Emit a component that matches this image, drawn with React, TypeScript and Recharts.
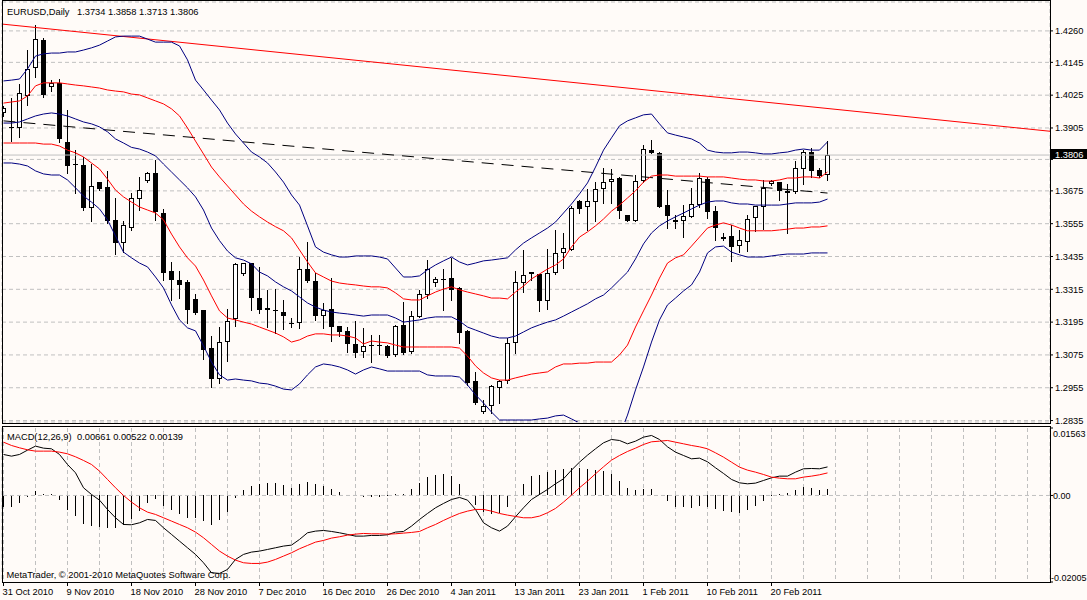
import React from "react";
import {
  ComposedChart,
  Bar,
  Line,
  XAxis,
  YAxis,
  CartesianGrid,
  ReferenceLine,
} from "recharts";

// EURUSD daily, 31 Oct 2010 .. 28 Feb 2011 (one slot per bar, Sundays included)
const open = [
  1.396, 1.3909, 1.3905, 1.4022, 1.4124, 1.4227, 1.4055, 1.407, 1.3854, 1.3773,
  1.377, 1.3612, 1.3707, 1.3689, 1.3569, 1.3484, 1.3539, 1.3645, 1.3711, 1.374,
  1.3594, 1.3382, 1.3349, 1.3342, 1.328, 1.3239, 1.31, 1.2987, 1.3122, 1.3206,
  1.3371, 1.3411, 1.3283, 1.3247, 1.3239, 1.3232, 1.3192, 1.3192, 1.3389, 1.3345,
  1.3217, 1.3243, 1.3181, 1.3163, 1.3115, 1.3086, 1.3111, 1.3111, 1.3108, 1.3075,
  1.3185, 1.3086, 1.3214, 1.3294, 1.3338, 1.3353, 1.3356, 1.332, 1.3163, 1.298,
  1.2866, 1.2888, 1.2954, 1.298, 1.3119, 1.3338, 1.3378, 1.3371, 1.3272, 1.3375,
  1.3448, 1.3459, 1.3638, 1.3616, 1.3634, 1.3682, 1.3707, 1.3722, 1.3587, 1.3565,
  1.3711, 1.3824, 1.3814, 1.3623, 1.3561, 1.3565, 1.358, 1.3623, 1.3718, 1.3601,
  1.3506, 1.351, 1.3473, 1.3488, 1.3576, 1.3616, 1.37, 1.3707, 1.3675, 1.3671,
  1.3755, 1.3817, 1.3751, 1.3734,
];
const high = [
  1.3985, 1.4015, 1.4066, 1.419, 1.4282, 1.4234, 1.408, 1.4084, 1.3971, 1.3824,
  1.3799, 1.3773, 1.3709, 1.3748, 1.3649, 1.3565, 1.3667, 1.3726, 1.3744, 1.3788,
  1.3609, 1.3415, 1.3382, 1.3349, 1.3298, 1.3241, 1.3144, 1.3177, 1.3243, 1.3411,
  1.3412, 1.3413, 1.3397, 1.3313, 1.3316, 1.3276, 1.321, 1.3433, 1.3488, 1.3375,
  1.3265, 1.3356, 1.3182, 1.3177, 1.3199, 1.3174, 1.3148, 1.3148, 1.3111, 1.3185,
  1.3269, 1.3236, 1.3313, 1.3422, 1.336, 1.3389, 1.343, 1.3324, 1.3166, 1.3013,
  1.291, 1.2965, 1.2982, 1.3137, 1.3382, 1.3459, 1.3379, 1.3372, 1.3462, 1.3532,
  1.3521, 1.362, 1.3642, 1.3682, 1.3707, 1.3759, 1.3755, 1.3726, 1.3588, 1.3733,
  1.3843, 1.3861, 1.3817, 1.3678, 1.3587, 1.3623, 1.3686, 1.374, 1.3726, 1.362,
  1.3521, 1.355, 1.3532, 1.3587, 1.3621, 1.3715, 1.3715, 1.3708, 1.37, 1.3784,
  1.3824, 1.3832, 1.3759, 1.3858,
];
const low = [
  1.3949, 1.3857, 1.3872, 1.3989, 1.4091, 1.4018, 1.404, 1.3854, 1.374, 1.3667,
  1.3605, 1.3565, 1.3678, 1.3558, 1.3444, 1.3451, 1.3532, 1.3605, 1.3707, 1.3569,
  1.3349, 1.3276, 1.3283, 1.3192, 1.3226, 1.306, 1.2958, 1.2972, 1.3053, 1.3181,
  1.3367, 1.3239, 1.3228, 1.3177, 1.3155, 1.317, 1.3177, 1.3174, 1.3342, 1.3203,
  1.3174, 1.3126, 1.3144, 1.3086, 1.3068, 1.3068, 1.3049, 1.3078, 1.3068, 1.3071,
  1.308, 1.3082, 1.3212, 1.3283, 1.3327, 1.3239, 1.3276, 1.3119, 1.2965, 1.2896,
  1.2863, 1.2863, 1.2899, 1.2972, 1.3082, 1.3305, 1.3349, 1.3236, 1.3243, 1.3371,
  1.3393, 1.3457, 1.3594, 1.3532, 1.3565, 1.3631, 1.3631, 1.3576, 1.3564, 1.3564,
  1.3707, 1.3813, 1.3615, 1.3539, 1.3539, 1.3506, 1.3579, 1.3616, 1.3576, 1.3495,
  1.3495, 1.3419, 1.3451, 1.3455, 1.3529, 1.3535, 1.3696, 1.3642, 1.3521, 1.3667,
  1.37, 1.3726, 1.3726, 1.3713,
];
const close = [
  1.3978, 1.3909, 1.4033, 1.4121, 1.423, 1.4026, 1.407, 1.3865, 1.3766, 1.377,
  1.3612, 1.3693, 1.3682, 1.3565, 1.3484, 1.355, 1.3649, 1.3678, 1.374, 1.3598,
  1.3375, 1.3349, 1.3331, 1.3239, 1.3228, 1.3093, 1.2987, 1.3122, 1.3199, 1.3408,
  1.341, 1.3283, 1.3239, 1.3239, 1.3236, 1.3217, 1.3192, 1.3389, 1.3345, 1.3217,
  1.3239, 1.3177, 1.3159, 1.3115, 1.3082, 1.3108, 1.3111, 1.3111, 1.3071, 1.3181,
  1.3082, 1.3217, 1.3298, 1.3389, 1.3353, 1.3349, 1.3313, 1.3155, 1.2972, 1.2899,
  1.2888, 1.2961, 1.298, 1.3119, 1.3342, 1.3367, 1.3371, 1.3272, 1.3375, 1.3448,
  1.3466, 1.3612, 1.3609, 1.3638, 1.3682, 1.3707, 1.3718, 1.3601, 1.3565, 1.3711,
  1.3828, 1.3814, 1.3616, 1.3583, 1.3569, 1.3583, 1.3627, 1.3722, 1.3598, 1.3539,
  1.3499, 1.347, 1.3495, 1.3572, 1.362, 1.3686, 1.3711, 1.3675, 1.3667, 1.3759,
  1.3817, 1.3748, 1.3729, 1.3806,
];

// Bollinger bands: blue = +/-2 sigma and middle, red = +/-1 sigma
const bbUpper2 = [
  1.4077, 1.408, 1.4084, 1.4121, 1.4168, 1.4176, 1.4179, 1.4179, 1.4183, 1.4183,
  1.419, 1.4198, 1.4208, 1.4223, 1.4238, 1.4241, 1.4241, 1.4241, 1.423, 1.4219,
  1.4219, 1.4219, 1.4205, 1.4154, 1.408, 1.4044, 1.4007, 1.3971, 1.3923, 1.3883,
  1.385, 1.3817, 1.3799, 1.3777, 1.3744, 1.3707, 1.366, 1.3623, 1.3547, 1.347,
  1.3451, 1.3441, 1.3433, 1.3433, 1.3437, 1.3437, 1.3437, 1.3433, 1.3426, 1.3393,
  1.336, 1.336, 1.3364, 1.3386, 1.3404, 1.3419, 1.3433, 1.3415, 1.3404, 1.3411,
  1.3419, 1.3422, 1.3426, 1.343, 1.3459, 1.3484, 1.3503, 1.3521, 1.3539, 1.3561,
  1.3594, 1.3627, 1.3664, 1.3704, 1.3762, 1.3824, 1.3869, 1.3913, 1.3931, 1.3942,
  1.3953, 1.3956, 1.392, 1.3887, 1.3879, 1.3872, 1.3865, 1.385, 1.3824, 1.3817,
  1.3814, 1.3814, 1.3817, 1.3817, 1.3814, 1.381, 1.381, 1.3814, 1.3817, 1.3824,
  1.3828, 1.3824, 1.3824, 1.3854,
];
const bbUpper1 = [
  1.3996, 1.4, 1.4004, 1.4022, 1.4059, 1.407, 1.407, 1.407, 1.4066, 1.4062,
  1.4059, 1.4055, 1.4051, 1.4044, 1.404, 1.4037, 1.4029, 1.4026, 1.4015, 1.4004,
  1.3993, 1.3975, 1.3949, 1.3905, 1.3857, 1.381, 1.3762, 1.3726, 1.3693, 1.366,
  1.3627, 1.3601, 1.358, 1.3561, 1.3544, 1.3529, 1.3503, 1.3459, 1.3415, 1.3375,
  1.336, 1.3345, 1.3338, 1.3334, 1.3331, 1.3327, 1.3324, 1.3324, 1.332, 1.3302,
  1.328, 1.3276, 1.3276, 1.3291, 1.3305, 1.3316, 1.3324, 1.3313, 1.3305, 1.3298,
  1.3291, 1.3283, 1.3283, 1.328, 1.3305, 1.3327, 1.3353, 1.3371, 1.3389, 1.3404,
  1.3426, 1.347, 1.3506, 1.3525, 1.3547, 1.3572, 1.3601, 1.3623, 1.3649, 1.3675,
  1.3707, 1.3729, 1.3733, 1.3733, 1.3729, 1.3729, 1.3729, 1.3729, 1.3726, 1.3726,
  1.3726, 1.3722, 1.3718, 1.3715, 1.3715, 1.3711, 1.3711, 1.3715, 1.3722, 1.3722,
  1.3726, 1.3726, 1.3722, 1.3744,
];
const bbMid = [
  1.3923, 1.3923, 1.3927, 1.3938, 1.3949, 1.3956, 1.396, 1.3956, 1.3949, 1.3938,
  1.3927, 1.392, 1.3909, 1.3891, 1.3865, 1.385, 1.3834, 1.3828, 1.3817, 1.3803,
  1.3773, 1.3744, 1.3715, 1.3686, 1.3653, 1.3605, 1.3539, 1.3493, 1.3455, 1.343,
  1.3422, 1.3408, 1.3378, 1.3364, 1.3342, 1.3324, 1.3309, 1.3287, 1.3265, 1.325,
  1.3239, 1.3232, 1.3228, 1.3225, 1.3221, 1.3217, 1.3221, 1.3221, 1.3221, 1.321,
  1.3195, 1.3199, 1.3203, 1.321, 1.3214, 1.3214, 1.3214, 1.3199, 1.3177, 1.3166,
  1.3155, 1.3144, 1.3137, 1.3137, 1.3144, 1.3159, 1.3174, 1.3185, 1.3195, 1.3203,
  1.3217, 1.3232, 1.3247, 1.3262, 1.328, 1.3294, 1.332, 1.3349, 1.3378, 1.3426,
  1.3481, 1.3521, 1.3547, 1.3565, 1.358, 1.3594, 1.3609, 1.3623, 1.3634, 1.3638,
  1.3638, 1.3631, 1.3627, 1.3627, 1.3623, 1.3623, 1.3623, 1.3623, 1.3627, 1.3631,
  1.3631, 1.3631, 1.3634, 1.3645,
];
const bbLower1 = [
  1.385, 1.385, 1.385, 1.385, 1.385, 1.3846, 1.3846, 1.3839, 1.3824, 1.3814,
  1.3799, 1.3777, 1.3755, 1.3718, 1.3678, 1.3653, 1.3634, 1.3616, 1.3605, 1.3594,
  1.3569, 1.3517, 1.347, 1.343, 1.34, 1.3349, 1.3291, 1.3236, 1.321, 1.3203,
  1.3195, 1.3188, 1.3177, 1.3166, 1.3155, 1.3141, 1.3122, 1.313, 1.3144, 1.3152,
  1.3152, 1.3148, 1.3148, 1.3144, 1.3137, 1.3115, 1.3126, 1.3122, 1.3119, 1.3111,
  1.3104, 1.3104, 1.3104, 1.3104, 1.3104, 1.3104, 1.3104, 1.31, 1.3071, 1.3035,
  1.3009, 1.2991, 1.2983, 1.2983, 1.2991, 1.2998, 1.3005, 1.3009, 1.3013, 1.3031,
  1.3042, 1.3042, 1.3045, 1.3045, 1.3049, 1.3049, 1.3049, 1.3075, 1.3111, 1.3177,
  1.3236, 1.3294, 1.3356, 1.3411, 1.343, 1.3441, 1.3473, 1.3506, 1.3539, 1.355,
  1.3558, 1.355, 1.3539, 1.3529, 1.3529, 1.3529, 1.3529, 1.3532, 1.3535, 1.3539,
  1.3539, 1.3543, 1.3543, 1.3547,
];
const bbLower2 = [
  1.3777, 1.3777, 1.3773, 1.3766, 1.3748, 1.3737, 1.3733, 1.3733, 1.3715, 1.3686,
  1.3656, 1.3634, 1.3609, 1.3569, 1.351, 1.3451, 1.343, 1.3411, 1.3397, 1.336,
  1.332, 1.3258, 1.3203, 1.3174, 1.3163, 1.3108, 1.3049, 1.3002, 1.2983, 1.2987,
  1.2983, 1.298, 1.2972, 1.2969, 1.2961, 1.295, 1.2947, 1.2969, 1.3002, 1.3031,
  1.3042, 1.3038, 1.3031, 1.302, 1.3005, 1.302, 1.3031, 1.3024, 1.3016, 1.3016,
  1.3016, 1.3016, 1.3016, 1.3002, 1.2998, 1.2998, 1.2998, 1.2994, 1.2965, 1.2929,
  1.2899, 1.2866, 1.2837, 1.2837, 1.2837, 1.2837, 1.2837, 1.2841, 1.2844, 1.2852,
  1.2855, 1.2841, 1.2826, 1.2808, 1.279, 1.2771, 1.2764, 1.2779, 1.2855, 1.2947,
  1.3031, 1.3122, 1.3203, 1.3258, 1.3283, 1.3309, 1.3331, 1.3378, 1.3448, 1.347,
  1.3473, 1.3451, 1.3441, 1.3433, 1.3433, 1.3433, 1.3437, 1.3441, 1.3444, 1.3444,
  1.3444, 1.3448, 1.3448, 1.3448,
];

// MACD(12,26,9): main, signal, histogram
const macdMain = [
  0.0095, 0.00911, 0.0095, 0.0105, 0.01143, 0.01096, 0.01081, 0.0095, 0.00718, 0.00525,
  0.00178, 0.00023, -0.00108, -0.00324, -0.00517, -0.00672, -0.00679, -0.00633, -0.00556, -0.00579,
  -0.00749, -0.00903, -0.01058, -0.01212, -0.01366, -0.01559, -0.01791, -0.01806, -0.01714, -0.01482,
  -0.01366, -0.01312, -0.01289, -0.01251, -0.01212, -0.01173, -0.0115, -0.01019, -0.00865, -0.00826,
  -0.00811, -0.00834, -0.00865, -0.00903, -0.00942, -0.00942, -0.00926, -0.00926, -0.00911, -0.00849,
  -0.00834, -0.0071, -0.00556, -0.00417, -0.00286, -0.00185, -0.00093, -0.00046, -0.00108, -0.00324,
  -0.00633, -0.00749, -0.00826, -0.0071, -0.00494, -0.00286, -0.00093, 0.00023, 0.00139, 0.0027,
  0.00386, 0.00587, 0.00772, 0.00934, 0.01081, 0.0122, 0.01297, 0.01274, 0.01197, 0.01258,
  0.01351, 0.0139, 0.01297, 0.01127, 0.01004, 0.00926, 0.00849, 0.00865, 0.0078, 0.00641,
  0.0051, 0.00371, 0.00293, 0.0027, 0.00286, 0.00347, 0.00409, 0.00448, 0.00448, 0.0054,
  0.00618, 0.00625, 0.00618, 0.00661,
];
const macdSignal = [
  0.01235, 0.01158, 0.01104, 0.01058, 0.01027, 0.01027, 0.01027, 0.01004, 0.00965, 0.00896,
  0.00811, 0.00718, 0.00564, 0.00371, 0.00178, 0.0, -0.00154, -0.00286, -0.00386, -0.0044,
  -0.00517, -0.00594, -0.00672, -0.00749, -0.00849, -0.0098, -0.01135, -0.01289, -0.01405, -0.01498,
  -0.01559, -0.01575, -0.01575, -0.01544, -0.01482, -0.01405, -0.01328, -0.01235, -0.01158, -0.01081,
  -0.01042, -0.00988, -0.00957, -0.00919, -0.00896, -0.0088, -0.00888, -0.00888, -0.00896, -0.00888,
  -0.00872, -0.00857, -0.00834, -0.00749, -0.00672, -0.00579, -0.00494, -0.00417, -0.00363, -0.00324,
  -0.00324, -0.00363, -0.00417, -0.00455, -0.00486, -0.00517, -0.00517, -0.00479, -0.00401, -0.00301,
  -0.00154, 0.00008, 0.00178, 0.00332, 0.00502, 0.00664, 0.00818, 0.00926, 0.01019, 0.01096,
  0.01181, 0.01243, 0.01258, 0.01274, 0.01235, 0.01197, 0.01158, 0.01127, 0.01081, 0.00988,
  0.00888, 0.00772, 0.00656, 0.00587, 0.0054, 0.00486, 0.00425, 0.00401, 0.00386, 0.00386,
  0.00425, 0.00448, 0.00479, 0.00522,
];
const macdHist = [
  -0.00262, -0.00262, -0.0017, -0.00031, 0.00093, 0.00039, 0.00023, -0.00108, -0.0034, -0.00479,
  -0.00656, -0.0071, -0.00726, -0.00749, -0.00764, -0.00687, -0.0054, -0.00363, -0.0017, -0.00077,
  -0.00247, -0.0034, -0.0044, -0.00517, -0.00517, -0.00594, -0.00687, -0.00579, -0.00386, -0.00054,
  0.00124, 0.00216, 0.00255, 0.00293, 0.00278, 0.00239, 0.00178, 0.00255, 0.00309, 0.00255,
  0.00216, 0.00154, 0.00085, 0.00015, 0.00015, -0.00031, -0.00046, -0.00039, -0.00015, 0.00023,
  0.00039, 0.00154, 0.00278, 0.00432, 0.00471, 0.00494, 0.00448, 0.0027, 0.00008, -0.00224,
  -0.00378, -0.00425, -0.00401, -0.00262, -0.00008, 0.00262, 0.00448, 0.00471, 0.00548, 0.00587,
  0.00602, 0.00625, 0.00633, 0.00618, 0.00594, 0.00571, 0.00494, 0.00332, 0.00178, 0.00124,
  0.00154, 0.00154, 0.0, -0.00124, -0.00262, -0.00278, -0.00301, -0.00247, -0.00278, -0.00324,
  -0.00363, -0.00378, -0.00401, -0.0034, -0.00247, -0.00139, -0.00008, 0.00023, 0.00062, 0.00116,
  0.00193, 0.0017, 0.00131, 0.00139,
];

const dateLabelSlots = [0, 8, 16, 24, 32, 40, 48, 56, 64, 72, 80, 88, 96];
const dateLabels = [
  "31 Oct 2010", "9 Nov 2010", "18 Nov 2010", "28 Nov 2010", "7 Dec 2010",
  "16 Dec 2010", "26 Dec 2010", "4 Jan 2011", "13 Jan 2011", "23 Jan 2011",
  "1 Feb 2011", "10 Feb 2011", "20 Feb 2011",
];
const gridSlots = [
  0, 4, 8, 12, 16, 20, 24, 28, 32, 36, 40, 44, 48, 52, 56, 60, 64, 68, 72, 76,
  80, 84, 88, 92, 96, 100, 104, 108, 112, 116, 120, 124, 128,
];
const priceTicks = [
  1.2835, 1.2955, 1.3075, 1.3195, 1.3315, 1.3435, 1.3555, 1.3675, 1.379, 1.3905,
  1.4025, 1.4145, 1.426,
];
// the 1.3790 label sits under the current-price tag in the original
const hiddenPriceLabel = 1.379;
const macdTicks = [-0.02005, 0, 0.01563];
const macdTickLabels = ["-0.02005", "0.00", "0.01563"];
const lastPrice = 1.3806;
const trendRed = [
  { x: -0.1875, y: 1.4285 },
  { x: 130.8125, y: 1.3893 },
];
const trendDash = [
  { x: 0, y: 1.3931 },
  { x: 103, y: 1.3667 },
];

const slotDomain = [-0.1875, 130.8125];
const priceDomain = [1.28297, 1.43657];
const macdDomain = [-0.02005, 0.01563];

const rows = open.map((o, i) => ({
  i,
  open: o,
  high: high[i],
  low: low[i],
  close: close[i],
  bu2: bbUpper2[i],
  bu1: bbUpper1[i],
  mid: bbMid[i],
  bl1: bbLower1[i],
  bl2: bbLower2[i],
  macd: macdMain[i],
  signal: macdSignal[i],
  hist: macdHist[i],
}));

const FONT = "'Liberation Sans', Arial, sans-serif";
const FS = 9.3;
const BG = "#FFFBF8";
const GRID = "#C0C0C0";
const NAVY = "#000080";
const RED = "#FF0000";

const Candle = (props: any) => {
  const { x, y, width, height, payload } = props;
  if (!payload || !Number.isFinite(y) || !Number.isFinite(height)) return null;
  const top0 = Math.min(y, y + height);
  const h = Math.abs(height);
  const c = Math.floor(x + width / 2);
  const span = payload.high - payload.low;
  const at = (v: number) => (span > 0 ? top0 + ((payload.high - v) / span) * h : top0);
  const yo = at(payload.open);
  const yc = at(payload.close);
  const top = Math.round(Math.min(yo, yc));
  const bot = Math.round(Math.max(yo, yc));
  const wick = (
    <line x1={c + 0.5} x2={c + 0.5} y1={Math.round(top0)} y2={Math.round(top0 + h) + 1} stroke="#000" />
  );
  if (bot - top < 2) {
    return (
      <g>
        {wick}
        <line x1={c - 2} x2={c + 3} y1={top + 0.5} y2={top + 0.5} stroke="#000" />
      </g>
    );
  }
  if (payload.close > payload.open) {
    return (
      <g>
        {wick}
        <rect x={c - 1.5} y={top + 0.5} width={4} height={bot - top - 1} fill="#fff" stroke="#000" />
      </g>
    );
  }
  return (
    <g>
      {wick}
      <rect x={c - 2} y={top} width={5} height={bot - top} fill="#000" />
    </g>
  );
};

const HistLine = (props: any) => {
  const { x, y, width, height } = props;
  if (!Number.isFinite(y) || !height) return null;
  const c = Math.floor(x + width / 2) + 0.5;
  return <line x1={c} x2={c} y1={Math.round(y)} y2={Math.round(y + height)} stroke="#000" />;
};

const PriceTick = (props: any) => {
  const { x, y, payload } = props;
  if (payload.value === hiddenPriceLabel) return null;
  return (
    <text x={x} y={y} dy={3.3} fontSize={FS} fontFamily={FONT} fill="#000">
      {payload.value.toFixed(4)}
    </text>
  );
};

const MacdTick = (props: any) => {
  const { x, y, payload } = props;
  const k = macdTicks.indexOf(payload.value);
  const dy = k === 2 ? 8.5 : k === 0 ? -1.5 : 3.3;
  const dx = k === 0 ? -2 : 0;
  return (
    <text x={x + dx} y={y} dy={dy} fontSize={9} fontFamily={FONT} fill="#000">
      {macdTickLabels[k]}
    </text>
  );
};

const DateTick = (props: any) => {
  const { x, y, payload } = props;
  const k = dateLabelSlots.indexOf(payload.value);
  if (k < 0) return null;
  const px = Math.floor(x) + 0.5;
  return (
    <g>
      <line x1={px} x2={px} y1={y} y2={y + 4} stroke="#000" />
      <text x={Math.floor(x) - 0.5} y={y + 13} fontSize={FS} fontFamily={FONT} fill="#000">
        {dateLabels[k]}
      </text>
    </g>
  );
};

const PriceTag = (props: any) => {
  const { viewBox } = props;
  if (!viewBox) return null;
  const x = viewBox.x + viewBox.width;
  const y = Math.round(viewBox.y);
  return (
    <g>
      <rect x={x} y={y - 6} width={40} height={10} fill="#000" />
      <text x={x + 5} y={y + 3} fontSize={FS} fontFamily={FONT} fill="#fff">
        {lastPrice.toFixed(4)}
      </text>
    </g>
  );
};

const bandLines = [
  { key: "bu2", stroke: NAVY },
  { key: "bu1", stroke: RED },
  { key: "mid", stroke: NAVY },
  { key: "bl1", stroke: RED },
  { key: "bl2", stroke: NAVY },
];

const App: React.FC = () => {
  return (
    <div
      style={{
        position: "absolute",
        left: 0,
        top: 0,
        width: 1087,
        height: 600,
        background: BG,
        overflow: "hidden",
      }}
    >
      <ComposedChart
        width={1087}
        height={600}
        data={rows}
        margin={{ top: 2, right: 0, bottom: 178, left: 2 }}
        style={{ position: "absolute", left: 0, top: 0 }}
      >
        <CartesianGrid stroke={GRID} strokeDasharray="4 3" />
        <XAxis
          dataKey="i"
          type="number"
          domain={slotDomain}
          ticks={gridSlots}
          interval={0}
          allowDataOverflow
          tick={false}
          tickLine={false}
          axisLine={false}
          height={0}
        />
        <YAxis
          orientation="right"
          width={37}
          domain={priceDomain}
          ticks={priceTicks}
          interval={0}
          allowDataOverflow
          axisLine={false}
          tickLine={{ stroke: "#000" }}
          tickSize={3}
          tickMargin={2}
          tick={<PriceTick />}
        />
        <ReferenceLine y={lastPrice} stroke={GRID} label={<PriceTag />} />
        <ReferenceLine segment={trendRed} stroke={RED} ifOverflow="hidden" />
        <ReferenceLine
          segment={trendDash}
          stroke="#000"
          strokeDasharray="12 8"
          ifOverflow="hidden"
        />
        <Bar
          dataKey={(d: any) => [d.low, d.high]}
          barSize={5}
          shape={<Candle />}
          isAnimationActive={false}
        />
        {bandLines.map((b) => (
          <Line
            key={b.key}
            type="linear"
            dataKey={b.key}
            stroke={b.stroke}
            strokeWidth={1}
            dot={false}
            activeDot={false}
            isAnimationActive={false}
          />
        ))}
      </ComposedChart>

      <ComposedChart
        width={1087}
        height={600}
        data={rows}
        margin={{ top: 428, right: 0, bottom: 0, left: 2 }}
        style={{ position: "absolute", left: 0, top: 0 }}
      >
        <CartesianGrid stroke={GRID} strokeDasharray="4 3" horizontal={false} />
        <XAxis
          dataKey="i"
          type="number"
          domain={slotDomain}
          ticks={gridSlots}
          interval={0}
          allowDataOverflow
          height={18}
          axisLine={false}
          tickLine={false}
          tickSize={0}
          tickMargin={0}
          tick={<DateTick />}
        />
        <YAxis
          orientation="right"
          width={37}
          domain={macdDomain}
          ticks={macdTicks}
          interval={0}
          allowDataOverflow
          axisLine={false}
          tickLine={{ stroke: "#000" }}
          tickSize={3}
          tickMargin={0}
          tick={<MacdTick />}
        />
        <ReferenceLine y={0} stroke={GRID} strokeDasharray="4 3" />
        <Bar dataKey="hist" barSize={5} shape={<HistLine />} isAnimationActive={false} />
        <Line
          type="linear"
          dataKey="macd"
          stroke="#000"
          strokeWidth={1}
          dot={false}
          activeDot={false}
          isAnimationActive={false}
        />
        <Line
          type="linear"
          dataKey="signal"
          stroke={RED}
          strokeWidth={1}
          dot={false}
          activeDot={false}
          isAnimationActive={false}
        />
      </ComposedChart>

      <svg
        width={1087}
        height={600}
        style={{ position: "absolute", left: 0, top: 0, pointerEvents: "none" }}
      >
        <g stroke="#000" strokeWidth={1} fill="none">
          <rect x={2.5} y={0.5} width={1048} height={423} />
          <rect x={2.5} y={426.5} width={1048} height={156} />
        </g>
        <g fontFamily={FONT} fontSize={FS} fill="#000">
          <text x={7} y={15}>EURUSD,Daily</text>
          <text x={77} y={15} style={{ whiteSpace: "pre" }}>
            1.3734 1.3858 1.3713 1.3806
          </text>
          <text x={7} y={439.5}>MACD(12,26,9)</text>
          <text x={77} y={439.5} style={{ whiteSpace: "pre" }}>
            0.00661 0.00522 0.00139
          </text>
          <text x={6.5} y={578}>MetaTrader, © 2001-2010 MetaQuotes Software Corp.</text>
        </g>
      </svg>
    </div>
  );
};

export default App;
